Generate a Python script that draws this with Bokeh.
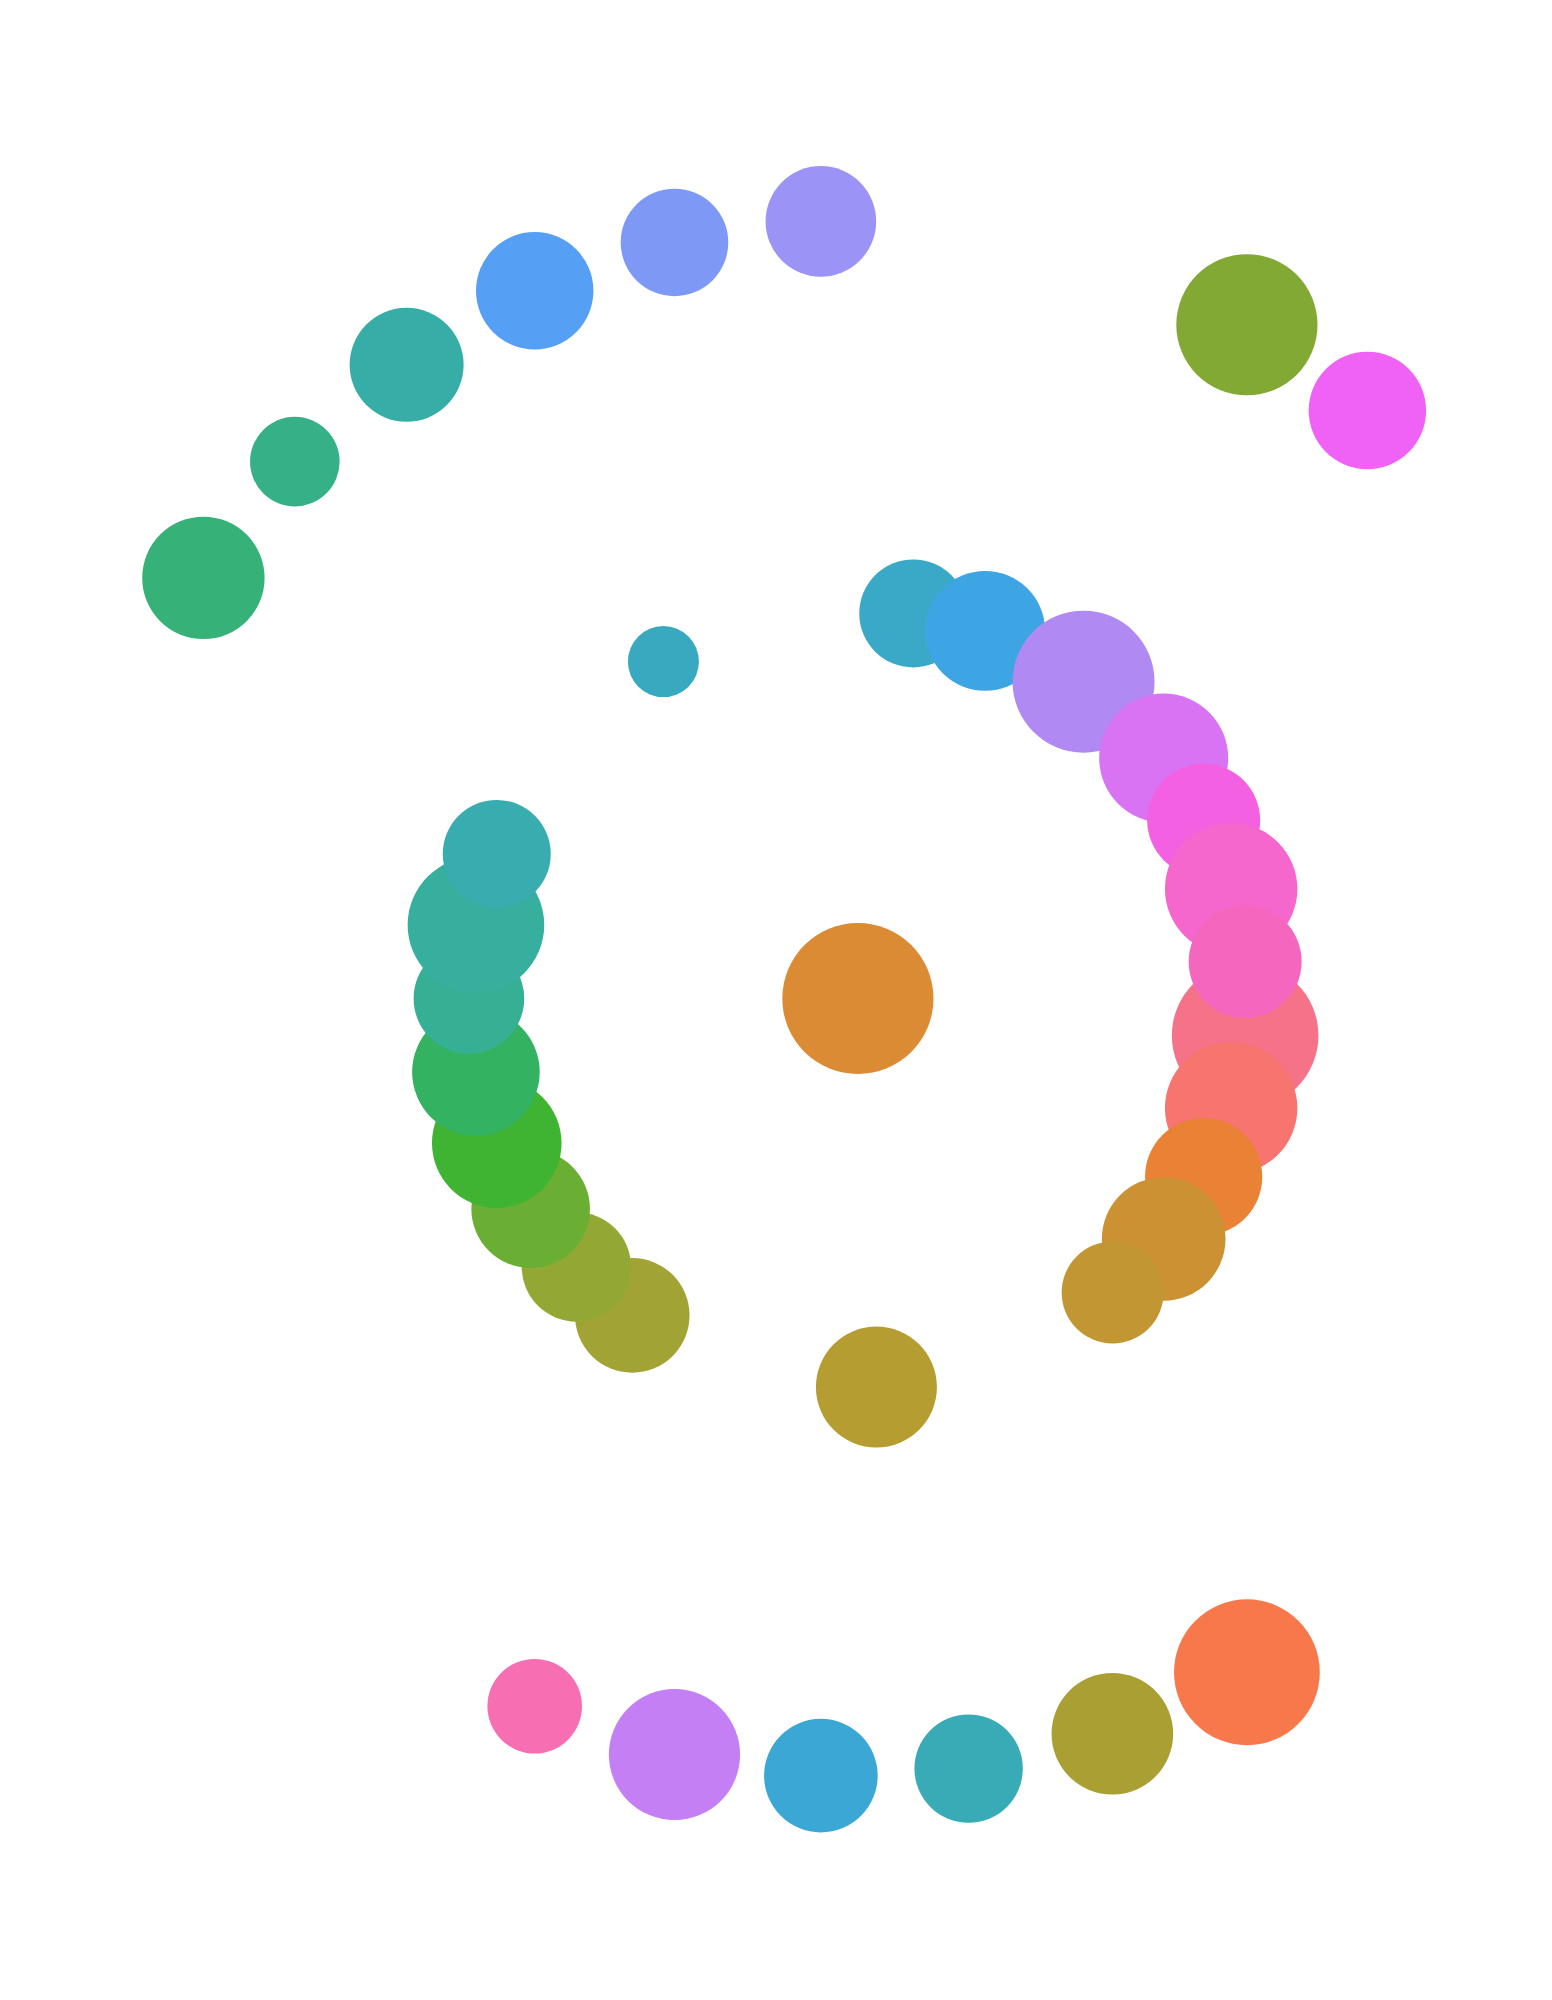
import numpy as np
from bokeh.plotting import figure
from bokeh.models import ColumnDataSource, Range1d
from bokeh.embed import file_html
from bokeh.resources import INLINE

# slot on the 33-step angular axis, ring (0 = centre, 1 = inner, 2 = outer),
# bubble value and colour, listed in drawing order
slot = [0, 3, 4, 14, 15, 16, 17, 18, 19, 28, 29, 30, 31, 32,
        0,
        9, 1, 2, 3.5, 5, 6, 7, 8, 10, 11, 12, 13, 16.5,
        20, 21, 22, 23, 24, 25, 26, 27, 30.5]
ring = [2, 2, 2, 2, 2, 2, 2, 2, 2, 2, 2, 2, 2, 2,
        0,
        1, 1, 1, 1, 1, 1, 1, 1, 1, 1, 1, 1, 1,
        1, 1, 1, 1, 1, 1, 1, 1, 1]
value = [55.3, 70.6, 58.7, 72.9, 60.8, 54.2, 56.8, 65.6, 47.3, 61.2, 44.8, 57.0, 58.7, 53.8,
         75.6,
         73.3, 54.0, 60.0, 71.0, 64.5, 56.5, 66.2, 56.5, 66.2, 58.6, 61.8, 51.0, 60.5,
         57.3, 54.7, 59.3, 64.8, 63.8, 55.3, 68.3, 54.0, 35.5]
colors = ["#9b93f5", "#82a933", "#ef62f5", "#f7794b", "#aa9f33", "#38abb6", "#3ba7d4",
          "#c47ff4", "#f76eb2", "#36b279", "#36b087", "#37ada7", "#559ff5", "#7e99f5",
          "#db8b34",
          "#f57289", "#3aa9c8", "#3da5e3", "#b089f3", "#d873f3", "#f360e2", "#f567cc",
          "#f567be", "#f7746f", "#e98235", "#cb9133", "#c29733", "#b59d32",
          "#a1a434", "#93a834", "#6aae33", "#3fb332", "#33b262", "#36b094", "#37af9e",
          "#38acae", "#38a9be"]

n_slots = 33
theta = np.radians((np.array(slot) - 0.25) * 360.0 / n_slots)
r = np.array(ring, dtype=float)

src = ColumnDataSource(dict(
    x=r * np.sin(theta),
    y=r * np.cos(theta),
    size=np.array(value) * 2,
    color=colors,
))

W, H = 1536, 1984
px = 389.0            # pixels per ring step
cx, cy = 857.4, 998.0  # centre inside the figure, pixels

p = figure(width=W, height=H, output_backend="svg", toolbar_location=None,
           x_range=Range1d(-cx / px, (W - cx) / px),
           y_range=Range1d(-(H - cy) / px, cy / px),
           min_border=0)
p.axis.visible = False
p.grid.visible = False
p.outline_line_color = None

p.scatter("x", "y", size="size", fill_color="color", line_color=None, source=src)

open("out.html", "w").write(file_html(p, INLINE))
